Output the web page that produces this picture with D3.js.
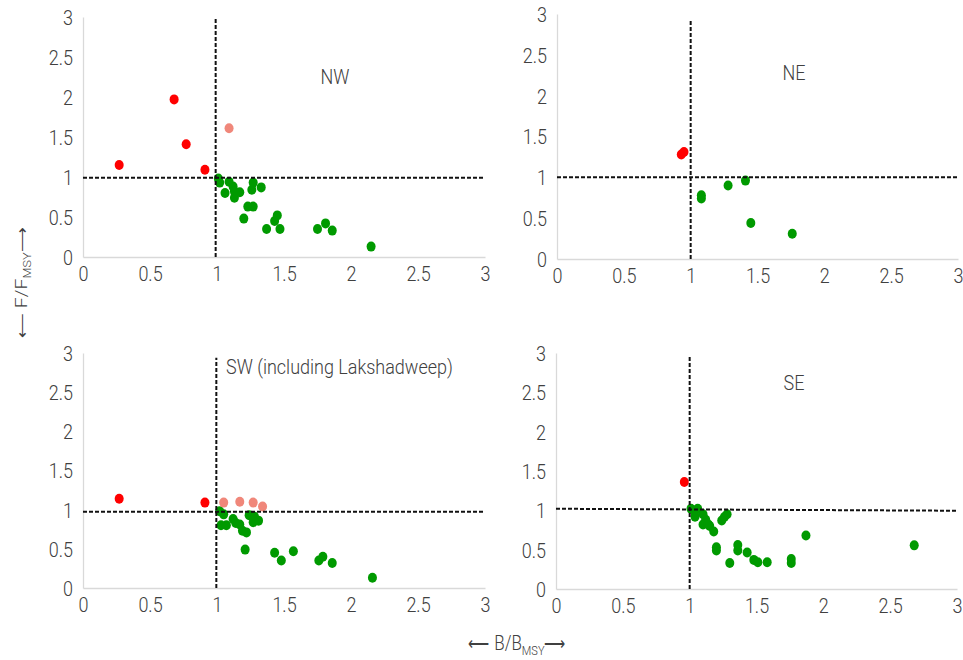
<!DOCTYPE html>
<html>
<head>
<meta charset="utf-8">
<script src="https://cdn.jsdelivr.net/npm/d3@7"></script>
<style>
  body { margin: 0; background: #fff; }
  text { font-family: Roboto, "Noto Sans", sans-serif; font-weight: 300; fill: #404040; }
</style>
</head>
<body>
<svg class="chart"></svg>
<script>
// tick values shared by all four panels
var ticks = [0, 0.5, 1, 1.5, 2, 2.5, 3];

// B/Bmsy, F/Fmsy
var nwRed = [[0.27, 1.15], [0.68, 1.97], [0.77, 1.41], [0.91, 1.09]];
var nwPink = [[1.09, 1.61]];
var nwGreen = [[1.01, 0.98], [1.02, 0.93], [1.06, 0.80], [1.09, 0.94], [1.12, 0.88], [1.13, 0.82],
  [1.13, 0.74], [1.17, 0.81], [1.26, 0.84], [1.27, 0.93], [1.33, 0.87], [1.23, 0.63], [1.27, 0.63],
  [1.20, 0.48], [1.37, 0.35], [1.43, 0.45], [1.45, 0.52], [1.47, 0.35], [1.75, 0.35], [1.81, 0.42],
  [1.86, 0.33], [2.15, 0.13]];

var neRed = [[0.93, 1.28], [0.95, 1.31]];
var nePink = [];
var neGreen = [[1.08, 0.78], [1.08, 0.74], [1.28, 0.90], [1.41, 0.96], [1.45, 0.44], [1.76, 0.31]];

var swRed = [[0.27, 1.14], [0.91, 1.09]];
var swPink = [[1.05, 1.09], [1.17, 1.10], [1.27, 1.09], [1.34, 1.04]];
var swGreen = [[1.02, 0.98], [1.05, 0.94], [1.03, 0.80], [1.07, 0.80], [1.12, 0.88], [1.14, 0.83],
  [1.17, 0.81], [1.19, 0.73], [1.22, 0.71], [1.24, 0.93], [1.27, 0.84], [1.28, 0.91], [1.31, 0.86],
  [1.21, 0.49], [1.43, 0.45], [1.48, 0.35], [1.57, 0.47], [1.76, 0.35], [1.79, 0.40], [1.86, 0.32],
  [2.16, 0.13]];

var seRed = [[0.96, 1.36]];
var sePink = [];
var seGreen = [[1.01, 1.02], [1.04, 0.92], [1.06, 1.02], [1.04, 0.99], [1.10, 0.95], [1.12, 0.88],
  [1.10, 0.82], [1.14, 0.82], [1.15, 0.80], [1.18, 0.73], [1.24, 0.87], [1.26, 0.915], [1.28, 0.95],
  [1.20, 0.53], [1.20, 0.49], [1.30, 0.33], [1.36, 0.56], [1.36, 0.49], [1.43, 0.465], [1.48, 0.37],
  [1.51, 0.34], [1.58, 0.34], [1.76, 0.38], [1.76, 0.33], [1.87, 0.68], [2.68, 0.555]];

// reference lines: vertical B/Bmsy=1 (to top value), horizontal F/Fmsy=1 (left, right)
var nwRef = {vx: 0.99, vTop: 2.98, hLeft: 0.99, hRight: 0.99};
var neRef = {vx: 1.0, vTop: 2.93, hLeft: 1.0, hRight: 1.0};
var swRef = {vx: 0.995, vTop: 2.94, hLeft: 0.975, hRight: 0.975};
var seRef = {vx: 1.0, vTop: 2.96, hLeft: 1.02, hRight: 0.995};

var titles = ["NW", "NE", "SW (including Lakshadweep)", "SE"];

var width = 963, height = 660;
var svg = d3.select(".chart").attr("width", width).attr("height", height);

// the picture is slightly stretched vertically, text follows it
var stretch = 1.15;

var panels = [
  {x: [83, 485], y: [257, 17], red: nwRed, pink: nwPink, green: nwGreen, ref: nwRef,
   title: titles[0], tx: 335, ty: 84, anchor: "middle"},
  {x: [557, 958], y: [259, 14], red: neRed, pink: nePink, green: neGreen, ref: neRef,
   title: titles[1], tx: 794, ty: 80, anchor: "middle"},
  {x: [83, 485], y: [588, 353], red: swRed, pink: swPink, green: swGreen, ref: swRef,
   title: titles[2], tx: 226, ty: 374, anchor: "start"},
  {x: [556, 957], y: [589, 353], red: seRed, pink: sePink, green: seGreen, ref: seRef,
   title: titles[3], tx: 794, ty: 390, anchor: "middle"}
];

function stretchText(sel) {
  sel.each(function() {
    var t = d3.select(this);
    var ty = +t.attr("y") || 0, tx = +t.attr("x") || 0;
    t.attr("x", null).attr("y", null)
      .attr("transform", (t.attr("transform") || "") +
        " translate(" + tx + "," + ty + ") scale(1," + stretch + ")");
  });
}

panels.forEach(function(p) {
  var x = d3.scaleLinear().domain([0, 3]).range(p.x);
  var y = d3.scaleLinear().domain([0, 3]).range(p.y);
  var g = svg.append("g");

  var xAxis = g.append("g")
    .attr("transform", "translate(0," + p.y[0] + ")")
    .call(d3.axisBottom(x).tickValues(ticks).tickSize(0).tickPadding(5).tickFormat(d3.format("")));
  var yAxis = g.append("g")
    .attr("transform", "translate(" + p.x[0] + ",0)")
    .call(d3.axisLeft(y).tickValues(ticks).tickSize(0).tickPadding(10).tickFormat(d3.format("")));

  [xAxis, yAxis].forEach(function(a) {
    a.select(".domain").attr("stroke", "#d9d9d9").attr("stroke-width", 1.3);
    a.selectAll("text").attr("font-size", 18).attr("fill", "#404040")
      .style("font-family", "Roboto, sans-serif").style("font-weight", 300);
  });
  xAxis.selectAll("text").attr("dy", "0.9em").call(stretchText);
  yAxis.selectAll("text").attr("dy", "0.36em").call(stretchText);

  function dots(data, color) {
    g.append("g").selectAll("ellipse").data(data).enter()
      .append("ellipse")
      .attr("cx", function(d) { return x(d[0]); })
      .attr("cy", function(d) { return y(d[1]); })
      .attr("rx", 4.5).attr("ry", 5)
      .attr("fill", color);
  }
  dots(p.green, "#009a00");
  dots(p.pink, "#f0877a");
  dots(p.red, "#ff0000");

  var r = p.ref;
  g.append("line")
    .attr("x1", x(r.vx)).attr("x2", x(r.vx))
    .attr("y1", y(0)).attr("y2", y(r.vTop))
    .attr("stroke", "#111").attr("stroke-width", 2).attr("stroke-dasharray", "4,2");
  g.append("line")
    .attr("x1", x(0)).attr("x2", x(3))
    .attr("y1", y(r.hLeft)).attr("y2", y(r.hRight))
    .attr("stroke", "#111").attr("stroke-width", 2).attr("stroke-dasharray", "4,2");

  g.append("text")
    .attr("x", p.tx).attr("y", p.ty)
    .attr("text-anchor", p.anchor)
    .attr("font-size", 18)
    .text(p.title)
    .call(stretchText);
});

// axis titles, long arrows taken from DejaVu
function axisTitle(sel, letter) {
  sel.append("tspan").style("font-family", "DejaVu Sans")
    .attr("font-size", 15).text("\u27F5 ");
  sel.append("tspan").text(letter + "/" + letter);
  sel.append("tspan").attr("font-size", 11).attr("dy", 4).text("MSY");
  sel.append("tspan").style("font-family", "DejaVu Sans")
    .attr("font-size", 15).attr("dy", -4).text("\u27F6");
}

svg.append("text")
  .attr("transform", "translate(27,283) rotate(-90) scale(" + stretch + ",1)")
  .attr("text-anchor", "middle")
  .attr("font-size", 17)
  .call(axisTitle, "F");

svg.append("text")
  .attr("transform", "translate(517,650) scale(1," + stretch + ")")
  .attr("text-anchor", "middle")
  .attr("font-size", 17)
  .call(axisTitle, "B");
</script>
</body>
</html>
